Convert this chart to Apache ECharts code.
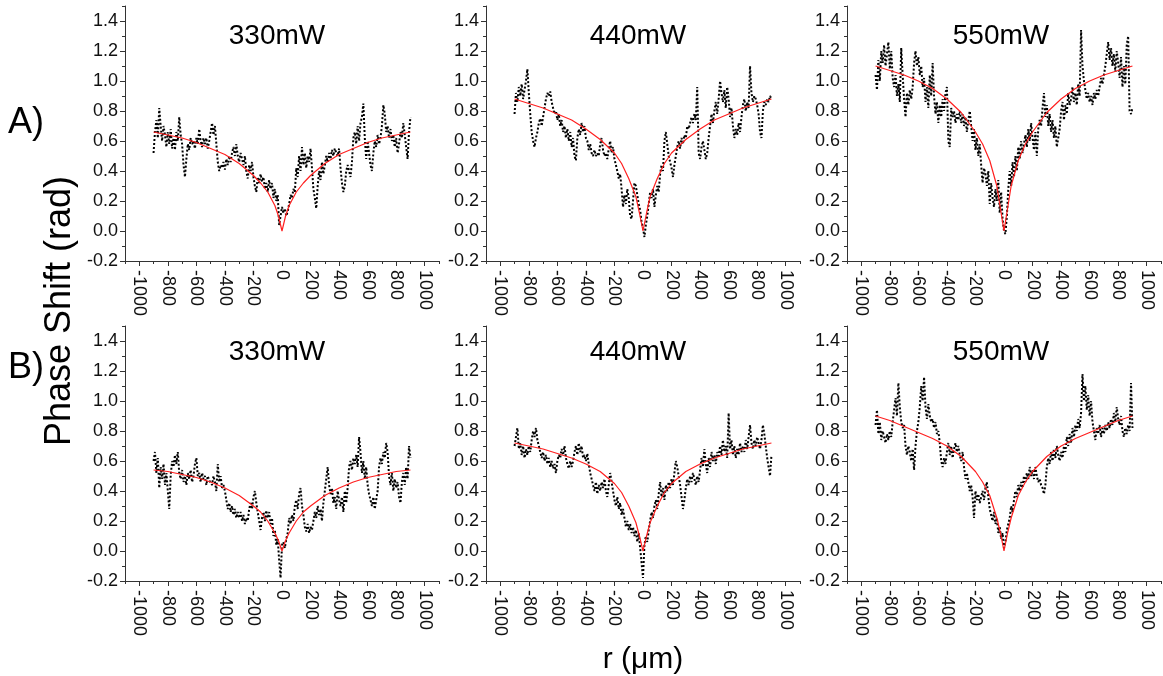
<!DOCTYPE html>
<html>
<head>
<meta charset="utf-8">
<title>Phase Shift vs r</title>
<script src="https://cdn.jsdelivr.net/npm/echarts@6/dist/echarts.min.js"></script>
<style>
  html, body { margin: 0; padding: 0; background: #fff; }
  #chart { width: 1163px; height: 676px; }
</style>
</head>
<body>
<div id="chart"></div>
<script>
// measured profiles are sampled from r = -900 um to 900 um, one value every 10 um
const rStart = -900;
const rStep = 10;

const panelTitles = ['330mW', '440mW', '550mW', '330mW', '440mW', '550mW'];
const xTicks = [-1000, -800, -600, -400, -200, 0, 200, 400, 600, 800, 1000];
const yTicks = [-0.2, 0, 0.2, 0.4, 0.6, 0.8, 1.0, 1.2, 1.4];

// row A
const phaseA330 = [
  0.52, 0.66, 0.74, 0.62, 0.82, 0.70, 0.60, 0.70, 0.64, 0.56, 0.66, 0.58, 0.68, 0.55, 0.62, 0.54, 0.66, 0.60, 0.76, 0.64,
  0.58, 0.44, 0.36, 0.48, 0.58, 0.54, 0.62, 0.58, 0.60, 0.55, 0.62, 0.58, 0.68, 0.60, 0.56, 0.62, 0.58, 0.62, 0.55, 0.60,
  0.66, 0.72, 0.64, 0.70, 0.58, 0.46, 0.40, 0.44, 0.42, 0.46, 0.41, 0.48, 0.44, 0.50, 0.46, 0.52, 0.56, 0.50, 0.58, 0.50,
  0.46, 0.52, 0.48, 0.44, 0.50, 0.40, 0.35, 0.44, 0.40, 0.46, 0.36, 0.30, 0.26, 0.36, 0.32, 0.38, 0.33, 0.36, 0.28, 0.32,
  0.26, 0.34, 0.28, 0.32, 0.22, 0.28, 0.20, 0.24, 0.04, 0.10, 0.16, 0.12, 0.15, 0.10, 0.13, 0.18, 0.24, 0.22, 0.28, 0.26,
  0.42, 0.36, 0.50, 0.40, 0.56, 0.44, 0.52, 0.42, 0.50, 0.46, 0.55, 0.42, 0.28, 0.22, 0.15, 0.30, 0.40, 0.34, 0.46, 0.38,
  0.44, 0.50, 0.46, 0.52, 0.48, 0.54, 0.50, 0.55, 0.52, 0.50, 0.55, 0.42, 0.32, 0.26, 0.30, 0.40, 0.44, 0.40, 0.36, 0.46,
  0.62, 0.66, 0.58, 0.70, 0.60, 0.72, 0.76, 0.85, 0.62, 0.48, 0.60, 0.52, 0.44, 0.40, 0.52, 0.60, 0.56, 0.64, 0.58, 0.62,
  0.70, 0.84, 0.78, 0.66, 0.70, 0.62, 0.68, 0.60, 0.64, 0.56, 0.62, 0.52, 0.58, 0.66, 0.62, 0.72, 0.64, 0.56, 0.48, 0.66,
  0.76
];
const phaseA440 = [
  0.78, 0.92, 0.86, 0.96, 0.90, 0.98, 0.88, 0.94, 1.00, 1.08, 0.92, 0.78, 0.66, 0.60, 0.56, 0.62, 0.66, 0.72, 0.75, 0.70,
  0.76, 0.82, 0.88, 0.92, 0.90, 0.93, 0.86, 0.82, 0.78, 0.80, 0.74, 0.78, 0.70, 0.74, 0.66, 0.70, 0.62, 0.68, 0.60, 0.66,
  0.56, 0.62, 0.50, 0.47, 0.62, 0.68, 0.64, 0.72, 0.66, 0.70, 0.62, 0.60, 0.54, 0.58, 0.52, 0.50, 0.54, 0.50, 0.52, 0.50,
  0.58, 0.62, 0.54, 0.50, 0.52, 0.48, 0.55, 0.60, 0.52, 0.56, 0.48, 0.47, 0.40, 0.35, 0.38, 0.28, 0.16, 0.24, 0.18, 0.28,
  0.22, 0.10, 0.08, 0.20, 0.32, 0.30, 0.24, 0.18, 0.14, 0.06, 0.02, -0.04, 0.04, 0.10, 0.18, 0.26, 0.22, 0.28, 0.16, 0.24,
  0.30, 0.26, 0.38, 0.44, 0.40, 0.60, 0.66, 0.58, 0.50, 0.46, 0.42, 0.36, 0.44, 0.50, 0.56, 0.60, 0.55, 0.62, 0.58, 0.64,
  0.62, 0.70, 0.68, 0.72, 0.76, 0.72, 0.78, 0.74, 0.96, 0.52, 0.48, 0.56, 0.60, 0.54, 0.48, 0.52, 0.62, 0.70, 0.78, 0.72,
  0.80, 0.86, 0.78, 0.88, 1.00, 0.92, 0.86, 0.94, 0.82, 0.96, 0.88, 0.76, 0.82, 0.70, 0.62, 0.68, 0.64, 0.72, 0.66, 0.76,
  0.84, 0.88, 0.80, 0.86, 0.82, 1.10, 0.92, 0.86, 0.90, 0.88, 0.84, 0.78, 0.66, 0.62, 0.80, 0.86, 0.84, 0.88, 0.86, 0.90,
  0.88
];
const phaseA550 = [
  1.04, 0.94, 1.14, 1.00, 1.20, 1.12, 1.24, 1.10, 1.18, 1.26, 1.08, 1.20, 1.02, 0.96, 1.04, 0.90, 0.98, 0.86, 1.22, 1.04,
  0.88, 0.76, 0.92, 0.84, 0.94, 0.88, 0.96, 1.12, 1.20, 1.10, 1.16, 1.04, 1.10, 0.96, 1.02, 0.86, 0.96, 0.82, 1.04, 0.90,
  1.12, 0.90, 0.78, 0.86, 0.72, 0.84, 0.76, 0.88, 0.80, 0.92, 0.96, 0.60, 0.56, 0.82, 0.76, 0.80, 0.72, 0.78, 0.74, 0.80,
  0.72, 0.78, 0.70, 0.76, 0.66, 0.74, 0.80, 0.70, 0.60, 0.68, 0.54, 0.62, 0.50, 0.58, 0.44, 0.32, 0.42, 0.38, 0.30, 0.40,
  0.18, 0.32, 0.22, 0.16, 0.28, 0.20, 0.34, 0.12, 0.26, 0.08, 0.00, -0.02, 0.10, 0.28, 0.40, 0.30, 0.46, 0.36, 0.50, 0.40,
  0.56, 0.48, 0.60, 0.52, 0.58, 0.64, 0.56, 0.68, 0.60, 0.72, 0.62, 0.54, 0.66, 0.50, 0.68, 0.74, 0.70, 0.82, 0.92, 0.76,
  0.84, 0.70, 0.78, 0.66, 0.74, 0.62, 0.70, 0.56, 0.62, 0.68, 0.80, 0.86, 0.74, 0.84, 0.78, 0.92, 0.84, 0.88, 0.96, 0.86,
  0.92, 0.84, 0.98, 0.90, 1.34, 1.10, 1.00, 0.94, 0.88, 0.92, 0.86, 0.90, 0.84, 0.92, 0.88, 0.94, 0.90, 0.96, 1.02, 0.98,
  1.04, 1.10, 1.18, 1.26, 1.14, 1.22, 1.10, 1.18, 1.06, 1.20, 1.12, 1.02, 1.16, 0.96, 1.10, 0.98, 1.24, 1.30, 0.80, 0.78,
  0.82
];

// row B
const phaseB330 = [
  0.60, 0.66, 0.52, 0.62, 0.42, 0.56, 0.48, 0.58, 0.44, 0.52, 0.40, 0.28, 0.50, 0.60, 0.56, 0.64, 0.58, 0.66, 0.52, 0.48,
  0.54, 0.46, 0.50, 0.44, 0.52, 0.48, 0.54, 0.46, 0.50, 0.58, 0.62, 0.50, 0.52, 0.46, 0.52, 0.48, 0.50, 0.44, 0.50, 0.47,
  0.48, 0.44, 0.50, 0.46, 0.40, 0.58, 0.46, 0.50, 0.42, 0.44, 0.40, 0.34, 0.28, 0.32, 0.26, 0.30, 0.24, 0.28, 0.22, 0.26,
  0.22, 0.26, 0.20, 0.24, 0.18, 0.22, 0.20, 0.28, 0.32, 0.28, 0.36, 0.40, 0.32, 0.26, 0.20, 0.14, 0.22, 0.26, 0.20, 0.27,
  0.22, 0.26, 0.18, 0.22, 0.10, 0.14, 0.04, 0.08, -0.06, -0.18, 0.04, 0.06, 0.02, 0.08, 0.12, 0.22, 0.18, 0.24, 0.20, 0.30,
  0.34, 0.28, 0.38, 0.42, 0.30, 0.24, 0.16, 0.13, 0.18, 0.12, 0.16, 0.14, 0.20, 0.26, 0.22, 0.30, 0.24, 0.28, 0.20, 0.32,
  0.40, 0.48, 0.56, 0.44, 0.38, 0.42, 0.32, 0.36, 0.28, 0.40, 0.34, 0.30, 0.36, 0.26, 0.40, 0.32, 0.42, 0.56, 0.60, 0.54,
  0.62, 0.58, 0.64, 0.56, 0.76, 0.66, 0.52, 0.60, 0.48, 0.56, 0.44, 0.38, 0.34, 0.30, 0.36, 0.28, 0.34, 0.40, 0.56, 0.62,
  0.58, 0.66, 0.62, 0.72, 0.66, 0.50, 0.44, 0.52, 0.40, 0.48, 0.42, 0.46, 0.36, 0.32, 0.46, 0.52, 0.44, 0.56, 0.48, 0.70,
  0.62
];
const phaseB440 = [
  0.70, 0.76, 0.82, 0.68, 0.72, 0.64, 0.70, 0.62, 0.68, 0.64, 0.70, 0.66, 0.74, 0.80, 0.76, 0.82, 0.74, 0.70, 0.66, 0.62,
  0.66, 0.60, 0.64, 0.58, 0.62, 0.56, 0.60, 0.55, 0.58, 0.52, 0.60, 0.64, 0.62, 0.68, 0.64, 0.70, 0.62, 0.58, 0.55, 0.60,
  0.56, 0.60, 0.66, 0.70, 0.64, 0.72, 0.66, 0.70, 0.62, 0.64, 0.60, 0.65, 0.58, 0.52, 0.48, 0.44, 0.40, 0.46, 0.38, 0.44,
  0.40, 0.46, 0.42, 0.48, 0.40, 0.36, 0.44, 0.52, 0.46, 0.40, 0.34, 0.30, 0.36, 0.28, 0.32, 0.24, 0.28, 0.22, 0.16, 0.20,
  0.14, 0.18, 0.12, 0.16, 0.10, 0.14, 0.06, 0.12, 0.02, -0.08, -0.18, 0.04, 0.10, 0.06, 0.14, 0.20, 0.26, 0.22, 0.30, 0.34,
  0.28, 0.38, 0.46, 0.36, 0.42, 0.34, 0.44, 0.40, 0.46, 0.42, 0.48, 0.44, 0.52, 0.60, 0.56, 0.50, 0.44, 0.36, 0.28, 0.34,
  0.42, 0.48, 0.44, 0.50, 0.46, 0.52, 0.48, 0.44, 0.50, 0.46, 0.54, 0.62, 0.56, 0.68, 0.58, 0.52, 0.62, 0.56, 0.66, 0.60,
  0.64, 0.58, 0.66, 0.62, 0.70, 0.64, 0.74, 0.66, 0.70, 0.62, 0.92, 0.68, 0.74, 0.64, 0.70, 0.62, 0.68, 0.64, 0.72, 0.66,
  0.70, 0.66, 0.74, 0.68, 0.76, 0.84, 0.72, 0.68, 0.74, 0.70, 0.76, 0.72, 0.68, 0.74, 0.84, 0.78, 0.70, 0.62, 0.56, 0.50,
  0.64
];
const phaseB550 = [
  0.84, 0.94, 0.78, 0.86, 0.74, 0.80, 0.76, 0.72, 0.78, 0.74, 0.80, 0.76, 0.86, 0.94, 1.02, 0.90, 1.12, 0.96, 0.86, 0.82,
  0.84, 0.70, 0.64, 0.70, 0.66, 0.60, 0.68, 0.54, 0.70, 0.80, 0.86, 0.96, 1.10, 1.00, 1.16, 0.96, 0.88, 0.98, 0.90, 0.86,
  0.88, 0.82, 0.86, 0.78, 0.80, 0.72, 0.60, 0.56, 0.62, 0.58, 0.66, 0.72, 0.64, 0.70, 0.62, 0.68, 0.72, 0.66, 0.70, 0.64,
  0.60, 0.66, 0.56, 0.48, 0.52, 0.46, 0.40, 0.44, 0.36, 0.22, 0.40, 0.34, 0.38, 0.32, 0.36, 0.40, 0.34, 0.42, 0.46, 0.36,
  0.28, 0.24, 0.20, 0.26, 0.18, 0.22, 0.12, 0.16, 0.08, 0.12, 0.02, 0.06, 0.14, 0.18, 0.22, 0.30, 0.26, 0.34, 0.40, 0.36,
  0.44, 0.40, 0.46, 0.42, 0.50, 0.46, 0.52, 0.48, 0.56, 0.50, 0.54, 0.48, 0.56, 0.50, 0.46, 0.48, 0.44, 0.42, 0.38, 0.44,
  0.56, 0.62, 0.58, 0.66, 0.60, 0.68, 0.62, 0.70, 0.64, 0.60, 0.66, 0.62, 0.70, 0.66, 0.76, 0.70, 0.78, 0.72, 0.82, 0.76,
  0.84, 0.80, 0.88, 0.82, 0.92, 1.18, 1.00, 1.10, 0.94, 1.04, 0.90, 1.00, 0.86, 0.80, 0.74, 0.82, 0.78, 0.84, 0.76, 0.82,
  0.78, 0.84, 0.80, 0.86, 0.82, 0.88, 0.84, 0.92, 0.86, 0.96, 0.88, 0.84, 0.90, 0.80, 0.76, 0.82, 0.78, 0.84, 0.80, 1.12,
  0.82
];

// fitted curves (red)
const fitR = [-900, -800, -700, -600, -500, -400, -300, -200, -150, -100, -50, -25, 0,
  25, 50, 100, 150, 200, 300, 400, 500, 600, 700, 800, 900];
const fitA330 = [0.66, 0.64, 0.62, 0.59, 0.55, 0.51, 0.45, 0.37, 0.32, 0.26, 0.17, 0.10, 0,
  0.10, 0.17, 0.26, 0.32, 0.37, 0.45, 0.51, 0.55, 0.59, 0.62, 0.64, 0.66];
const fitA440 = [0.88, 0.85, 0.82, 0.78, 0.74, 0.68, 0.61, 0.52, 0.45, 0.35, 0.23, 0.12, 0,
  0.12, 0.23, 0.35, 0.45, 0.52, 0.61, 0.68, 0.74, 0.78, 0.82, 0.85, 0.88];
const fitA550 = [1.10, 1.07, 1.04, 1.00, 0.95, 0.88, 0.79, 0.66, 0.58, 0.47, 0.30, 0.15, 0,
  0.15, 0.30, 0.47, 0.58, 0.66, 0.79, 0.88, 0.95, 1.00, 1.04, 1.07, 1.10];
const fitB330 = [0.54, 0.53, 0.51, 0.49, 0.46, 0.42, 0.37, 0.30, 0.26, 0.20, 0.12, 0.07, 0,
  0.07, 0.12, 0.20, 0.26, 0.30, 0.37, 0.42, 0.46, 0.49, 0.51, 0.53, 0.54];
const fitB440 = [0.72, 0.70, 0.68, 0.65, 0.62, 0.58, 0.53, 0.45, 0.39, 0.30, 0.19, 0.10, 0,
  0.10, 0.19, 0.30, 0.39, 0.45, 0.53, 0.58, 0.62, 0.65, 0.68, 0.70, 0.72];
const fitB550 = [0.90, 0.87, 0.83, 0.79, 0.75, 0.70, 0.63, 0.53, 0.46, 0.37, 0.22, 0.12, 0,
  0.12, 0.22, 0.37, 0.46, 0.53, 0.63, 0.70, 0.75, 0.79, 0.83, 0.87, 0.90];

const measured = [phaseA330, phaseA440, phaseA550, phaseB330, phaseB440, phaseB550];
const fits = [fitA330, fitA440, fitA550, fitB330, fitB440, fitB550];

const FONT = '"Liberation Sans", Arial, sans-serif';
const gridLefts = [125, 486, 847];
const gridTops = [6, 326];
const titleX = [277, 638, 1001];
const titleY = [36, 352];

const chart = echarts.init(document.getElementById('chart'));

const grid = [], xAxis = [], yAxis = [], series = [], graphic = [];

for (let i = 0; i < 6; i++) {
  const col = i % 3, row = Math.floor(i / 3);
  grid.push({ left: gridLefts[col], top: gridTops[row], width: 314, height: 255 });

  // main x axis: labelled ticks every 200
  xAxis.push({
    type: 'value', gridIndex: i, position: 'bottom', min: -1100, max: 1100,
    axisLine: { onZero: false, lineStyle: { color: '#333', width: 1 } },
    axisTick: { inside: false, length: 5, customValues: xTicks, lineStyle: { color: '#333' } },
    axisLabel: {
      customValues: xTicks, rotate: -90, margin: 9, fontSize: 18,
      fontFamily: FONT, color: '#111',
      formatter: v => String(v)
    },
    splitLine: { show: false }
  });
  // minor x ticks every 100
  xAxis.push({
    type: 'value', gridIndex: i, position: 'bottom', min: -1100, max: 1100, interval: 100,
    axisLine: { show: false, onZero: false },
    axisTick: { length: 3, lineStyle: { color: '#333' } },
    axisLabel: { show: false },
    splitLine: { show: false }
  });

  yAxis.push({
    type: 'value', gridIndex: i, position: 'left', min: -0.2, max: 1.5,
    axisLine: { show: true, onZero: false, lineStyle: { color: '#333', width: 1 } },
    axisTick: { show: true, length: 5, customValues: yTicks, lineStyle: { color: '#333' } },
    axisLabel: {
      customValues: yTicks, margin: 7, fontSize: 18, fontFamily: FONT, color: '#111',
      formatter: v => v.toFixed(1)
    },
    splitLine: { show: false }
  });
  yAxis.push({
    type: 'value', gridIndex: i, position: 'left', min: -0.2, max: 1.5, interval: 0.1,
    axisLine: { show: false, onZero: false },
    axisTick: { show: true, length: 3, lineStyle: { color: '#333' } },
    axisLabel: { show: false },
    splitLine: { show: false }
  });

  series.push({
    type: 'line', xAxisIndex: 2 * i, yAxisIndex: 2 * i,
    data: measured[i].map((v, k) => [rStart + k * rStep, v]),
    showSymbol: false, silent: true, z: 2,
    lineStyle: { color: '#000', width: 2, type: 'dotted' }
  });
  series.push({
    type: 'line', xAxisIndex: 2 * i, yAxisIndex: 2 * i,
    data: fitR.map((r, k) => [r, fits[i][k]]),
    showSymbol: false, silent: true, z: 3,
    lineStyle: { color: '#ff2020', width: 1.2 }
  });

  graphic.push({
    type: 'text', x: titleX[col], y: titleY[row],
    style: {
      text: panelTitles[i], font: '28px ' + FONT, fill: '#000',
      align: 'center', verticalAlign: 'middle', textAlign: 'center', textVerticalAlign: 'middle'
    }
  });
}

graphic.push(
  { type: 'text', x: 8, y: 123,
    style: { text: 'A)', font: '36px ' + FONT, fill: '#000', verticalAlign: 'middle', textVerticalAlign: 'middle' } },
  { type: 'text', x: 8, y: 368,
    style: { text: 'B)', font: '36px ' + FONT, fill: '#000', verticalAlign: 'middle', textVerticalAlign: 'middle' } },
  { type: 'text', x: 60, y: 311, rotation: Math.PI / 2,
    style: { text: 'Phase Shift (rad)', font: '36px ' + FONT, fill: '#000',
      align: 'center', verticalAlign: 'middle', textAlign: 'center', textVerticalAlign: 'middle' } },
  { type: 'text', x: 643, y: 660,
    style: { text: 'r (μm)', font: '30px ' + FONT, fill: '#000',
      align: 'center', verticalAlign: 'middle', textAlign: 'center', textVerticalAlign: 'middle' } }
);

chart.setOption({
  animation: false,
  backgroundColor: '#fff',
  grid: grid,
  xAxis: xAxis,
  yAxis: yAxis,
  series: series,
  graphic: graphic
});
</script>
</body>
</html>
